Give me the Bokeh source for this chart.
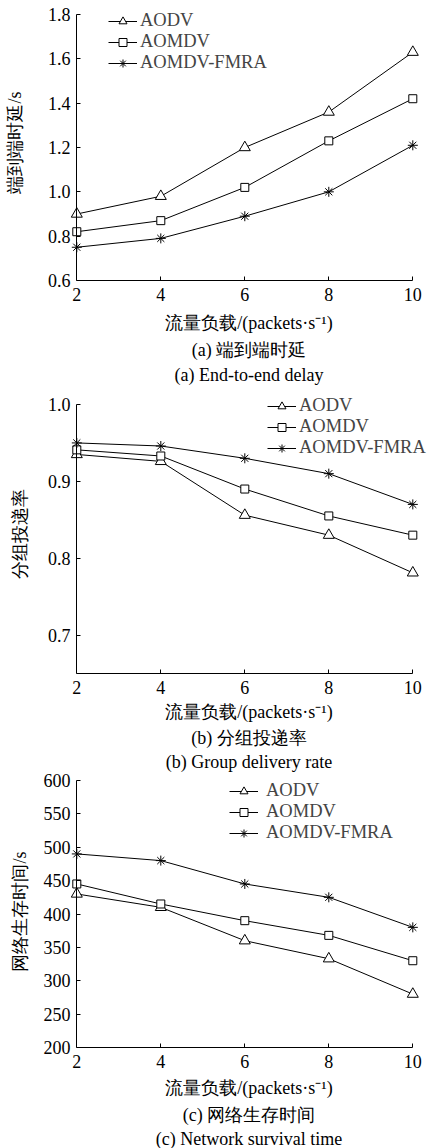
from bokeh.plotting import figure
from bokeh.layouts import column
from bokeh.models import (Range1d, FixedTicker, PrintfTickFormatter, BasicTickFormatter,
                          Legend, LegendItem, LinearAxis, Title)
from bokeh.embed import file_html
from bokeh.resources import INLINE

# ---------------- data ----------------
x_load = [2, 4, 6, 8, 10]
x_ticks = [2, 4, 6, 8, 10]
series_names = ["AODV", "AOMDV", "AOMDV-FMRA"]

delay_aodv = [0.90, 0.98, 1.20, 1.36, 1.63]
delay_aomdv = [0.82, 0.87, 1.02, 1.23, 1.42]
delay_fmra = [0.75, 0.79, 0.89, 1.00, 1.21]

pdr_aodv = [0.935, 0.926, 0.856, 0.830, 0.781]
pdr_aomdv = [0.941, 0.933, 0.890, 0.855, 0.830]
pdr_fmra = [0.950, 0.946, 0.930, 0.910, 0.870]

life_aodv = [430, 410, 360, 333, 280]
life_aomdv = [445, 415, 390, 368, 330]
life_fmra = [490, 480, 445, 425, 380]

delay_ticks = [0.6, 0.8, 1.0, 1.2, 1.4, 1.6, 1.8]
pdr_ticks = [0.7, 0.8, 0.9, 1.0]
life_ticks = [200, 250, 300, 350, 400, 450, 500, 550, 600]

x_label = "流量负载/(packets·s⁻¹)"
y_labels = ["端到端时延/s", "分组投递率", "网络生存时间/s"]
captions_cn = ["(a) 端到端时延", "(b) 分组投递率", "(c) 网络生存时间"]
captions_en = ["(a) End-to-end delay", "(b) Group delivery rate", "(c) Network survival time"]

# ---------------- style ----------------
SERIF = "Liberation Serif"
FS = "18px"
MARKERS = ["triangle", "square", "asterisk"]
MSIZE = [11, 8, 10]
PX_PER_X = 42.0
FRAME_W = 357
LEFT = 70
X_PAD_L = 6.3  # px of room left of x=2 so markers are not clipped


def style_axis(ax):
    ax.axis_line_color = "black"
    ax.axis_line_width = 1
    ax.major_tick_in = 4
    ax.major_tick_out = 0
    ax.major_tick_line_color = "black"
    ax.minor_tick_line_color = None
    ax.major_label_text_font = SERIF
    ax.major_label_text_font_size = FS
    ax.major_label_text_color = "black"
    ax.axis_label_text_font = SERIF
    ax.axis_label_text_font_size = FS
    ax.axis_label_text_font_style = "normal"
    ax.axis_label_text_color = "black"


def make_panel(ys, y_lo, y_hi, y_ticks, y_fmt, y_label, cap_cn, cap_en,
               b_top, data_h, pad_top, b_bottom, ylab_standoff,
               leg_x, leg_top, leg_standoff, xlab_standoff, cap1_so, cap2_so):
    x0 = x_ticks[0] - X_PAD_L / PX_PER_X
    x1 = x0 + FRAME_W / PX_PER_X
    frame_h = data_h + pad_top
    y_top = y_hi + pad_top * (y_hi - y_lo) / data_h
    p = figure(frame_width=FRAME_W, frame_height=frame_h,
               x_range=Range1d(x0, x1), y_range=Range1d(y_lo, y_top),
               min_border_left=LEFT, min_border_right=0,
               min_border_top=b_top, min_border_bottom=b_bottom,
               output_backend="svg", toolbar_location=None,
               background_fill_color="white", border_fill_color="white",
               x_axis_label=x_label, y_axis_label=y_label)
    p.outline_line_color = None
    p.grid.visible = False

    xa = p.xaxis[0]
    style_axis(xa)
    xa.ticker = FixedTicker(ticks=x_ticks)
    xa.bounds = (x_ticks[0], x_ticks[-1])
    xa.major_label_standoff = 7
    xa.axis_label_standoff = xlab_standoff

    # label-carrying y axis at the frame edge (no line / ticks)
    ya = p.yaxis[0]
    style_axis(ya)
    ya.ticker = FixedTicker(ticks=y_ticks)
    ya.formatter = y_fmt
    ya.bounds = (y_lo, y_hi)
    ya.axis_line_color = None
    ya.major_tick_line_color = None
    ya.major_label_standoff = 0
    ya.axis_label_standoff = ylab_standoff

    # y axis rule drawn at x = 2 with inward ticks (labels not drawn)
    yr = LinearAxis(fixed_location=x_ticks[0], ticker=FixedTicker(ticks=y_ticks),
                    bounds=(y_lo, y_hi))
    style_axis(yr)
    yr.major_label_text_color = None
    yr.major_label_text_font_size = "1px"
    yr.major_label_standoff = 0
    p.add_layout(yr, "left")

    items = []
    for i, y in enumerate(ys):
        lr = p.line(x_load, y, line_color="black", line_width=1)
        sr = p.scatter(x_load, y, marker=MARKERS[i], size=MSIZE[i],
                       line_color="black", fill_color="white", line_width=1)
        items.append(LegendItem(label=series_names[i], renderers=[lr, sr]))

    leg = Legend(items=items, location=(leg_x, frame_h - leg_top - 60),
                 padding=0, margin=0, spacing=0,
                 glyph_width=29, glyph_height=20, label_height=20,
                 label_standoff=leg_standoff,
                 label_text_font=SERIF, label_text_font_size="18.5px",
                 background_fill_alpha=0, border_line_alpha=0)
    p.add_layout(leg)

    for txt, so in ((cap_cn, cap1_so), (cap_en, cap2_so)):
        p.add_layout(Title(text=txt, align="center", standoff=so,
                           text_font=SERIF, text_font_size=FS,
                           text_font_style="normal", text_color="black"), "below")
    return p


pa = make_panel([delay_aodv, delay_aomdv, delay_fmra], 0.6, 1.8, delay_ticks,
                PrintfTickFormatter(format="%.1f"),
                y_labels[0], captions_cn[0], captions_en[0],
                b_top=4, data_h=266, pad_top=10, b_bottom=108, ylab_standoff=20,
                leg_x=38, leg_top=9, leg_standoff=3, xlab_standoff=9, cap1_so=5, cap2_so=0)
pb = make_panel([pdr_aodv, pdr_aomdv, pdr_fmra], 0.65, 1.0, pdr_ticks,
                PrintfTickFormatter(format="%.1f"),
                y_labels[1], captions_cn[1], captions_en[1],
                b_top=6, data_h=269, pad_top=10, b_bottom=99, ylab_standoff=15,
                leg_x=197, leg_top=4, leg_standoff=3, xlab_standoff=5, cap1_so=3, cap2_so=0)
pc = make_panel([life_aodv, life_aomdv, life_fmra], 200, 600, life_ticks,
                BasicTickFormatter(),
                y_labels[2], captions_cn[2], captions_en[2],
                b_top=3, data_h=267, pad_top=5, b_bottom=101, ylab_standoff=11,
                leg_x=159, leg_top=8, leg_standoff=8, xlab_standoff=7, cap1_so=4, cap2_so=0)

layout = column(pa, pb, pc, spacing=0)
open("out.html", "w").write(file_html(layout, INLINE))
